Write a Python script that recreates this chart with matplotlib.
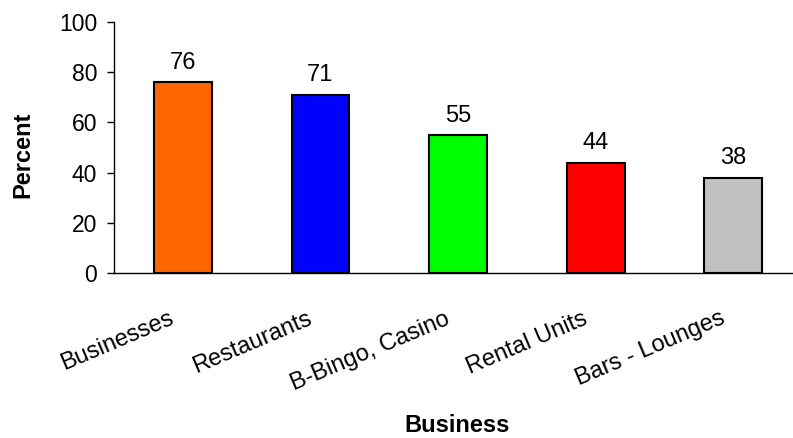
import numpy as np
import matplotlib.pyplot as plt
import matplotlib.transforms as mtransforms

plt.rcParams['font.family'] = ['Liberation Sans', 'DejaVu Sans']

categories = ['Businesses', 'Restaurants', 'B-Bingo, Casino', 'Rental Units', 'Bars - Lounges']
values = [76, 71, 55, 44, 38]
colors = ['#ff6600', '#0000ff', '#00ff00', '#ff0000', '#c0c0c0']

fig = plt.figure(figsize=(7.93, 4.38), dpi=100)
ax = fig.add_axes([0.1438, 0.3767, 0.8676, 0.5731])

x = np.arange(len(categories))
bars = ax.bar(x, values, width=0.42, color=colors, edgecolor='black', linewidth=1.5)

for xi, v in zip(x, values):
    ax.annotate(str(v), (xi, v), xytext=(0, 6), textcoords='offset points',
                ha='center', va='bottom', fontsize=17)

ax.set_xlim(-0.5, 4.5)
ax.set_ylim(0, 100)
ax.set_yticks(range(0, 101, 20))
ax.tick_params(axis='y', labelsize=16.5, length=5, width=1, direction='out', pad=7)
ax.tick_params(axis='x', length=0, labelsize=17, pad=25)
ax.set_xticks(x)
ax.set_xticklabels(categories, rotation=23, ha='right', va='top', rotation_mode='anchor')
# nudge labels a bit to the left like the original
shift = mtransforms.ScaledTranslation(-14 / 100, 0, fig.dpi_scale_trans)
for lab in ax.get_xticklabels():
    lab.set_transform(lab.get_transform() + shift)
for s in ['top', 'right']:
    ax.spines[s].set_visible(False)
ax.spines['left'].set_linewidth(1)
ax.spines['bottom'].set_linewidth(1)

fig.text(23 / 793, 1 - 155 / 438, 'Percent', fontsize=17, fontweight='bold',
         rotation=90, ha='center', va='center')
fig.text(457 / 793, 1 - 426 / 438, 'Business', fontsize=17, fontweight='bold',
         ha='center', va='center')

fig.savefig('out.png', dpi=100)
